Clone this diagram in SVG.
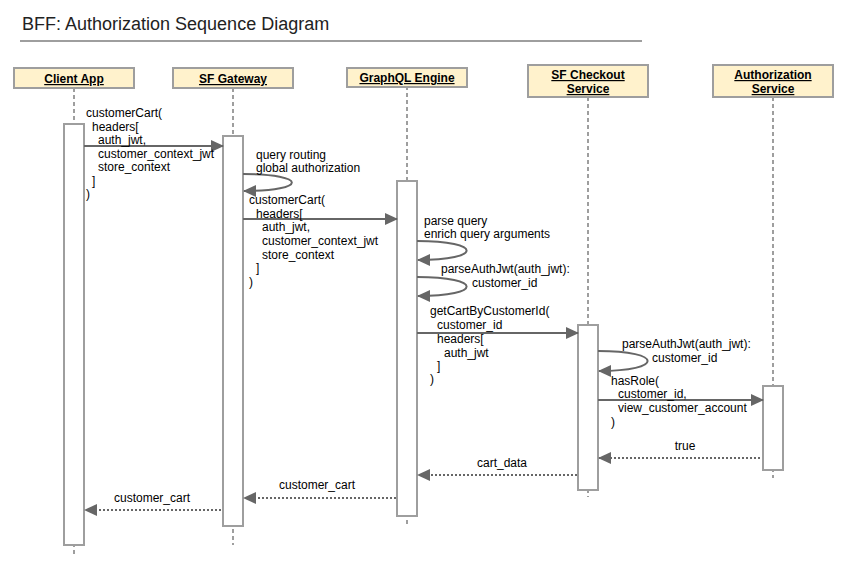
<svg xmlns="http://www.w3.org/2000/svg" width="855" height="576" viewBox="0 0 855 576">
<style>
text{font-family:"Liberation Sans",Arial,sans-serif;font-size:12px;fill:#000}
.title{font-size:18px;fill:#222}
.hdr{fill:#fff2cc;stroke:#9e9e9e;stroke-width:2}
.hl{font-weight:bold;text-anchor:middle;text-decoration:underline}
.life{stroke:#9e9e9e;stroke-width:2;stroke-dasharray:4 3;fill:none}
.act{fill:#fff;stroke:#9e9e9e;stroke-width:2}
.msg{stroke:#666;stroke-width:2;fill:none;marker-end:url(#ah)}
.ret{stroke:#666;stroke-width:2;fill:none;stroke-dasharray:2 2;marker-end:url(#ah)}
.mid{text-anchor:middle}
</style>
<defs>
<marker id="ah" markerUnits="userSpaceOnUse" markerWidth="14" markerHeight="12" refX="12" refY="6" orient="auto">
<path d="M0,0 L13,6 L0,12 z" fill="#666"/>
</marker>
</defs>
<rect width="855" height="576" fill="#fff"/>
<text class="title" x="22" y="30">BFF: Authorization Sequence Diagram</text>
<line x1="20" y1="41" x2="642" y2="41" stroke="#9e9e9e" stroke-width="2"/>

<g id="client-app">
<line class="life" x1="74" y1="88" x2="74" y2="554"/>
<rect class="hdr" x="14" y="68" width="120" height="20"/>
<text class="hl" x="74" y="83">Client App</text>
<rect class="act" x="64" y="124" width="20" height="421"/>
</g>
<g id="sf-gateway">
<line class="life" x1="233" y1="88" x2="233" y2="545"/>
<rect class="hdr" x="173" y="68" width="120" height="20"/>
<text class="hl" x="233" y="83">SF Gateway</text>
<rect class="act" x="223" y="136" width="20" height="390"/>
</g>
<g id="graphql-engine">
<line class="life" x1="407" y1="86" x2="407" y2="524"/>
<rect class="hdr" x="347" y="68" width="120" height="19"/>
<text class="hl" x="407" y="82">GraphQL Engine</text>
<rect class="act" x="397" y="181" width="20" height="335"/>
</g>
<g id="sf-checkout-service">
<line class="life" x1="588" y1="97" x2="588" y2="497"/>
<rect class="hdr" x="528" y="65" width="120" height="32"/>
<text class="hl" x="588" y="79">SF Checkout</text>
<text class="hl" x="588" y="93">Service</text>
<rect class="act" x="578" y="325" width="20" height="165"/>
</g>
<g id="authorization-service">
<line class="life" x1="773" y1="97" x2="773" y2="478"/>
<rect class="hdr" x="713" y="65" width="120" height="32"/>
<text class="hl" x="773" y="79">Authorization</text>
<text class="hl" x="773" y="93">Service</text>
<rect class="act" x="763" y="386" width="20" height="84"/>
</g>

<g id="connectors">
<line class="msg" x1="84" y1="146" x2="223" y2="146"/>
<path class="msg" d="M243,174 C308,174 308,191 244,191"/>
<line class="msg" x1="243" y1="219" x2="397" y2="219"/>
<path class="msg" d="M417,241 C483,241 483,260 418,260"/>
<path class="msg" d="M417,277 C483,277 483,296 418,296"/>
<line class="msg" x1="417" y1="333" x2="578" y2="333"/>
<path class="msg" d="M598,351 C664,351 664,371 599,371"/>
<line class="msg" x1="598" y1="400" x2="763" y2="400"/>
<line class="ret" x1="760" y1="458" x2="599" y2="458"/>
<line class="ret" x1="577" y1="475" x2="418" y2="475"/>
<line class="ret" x1="396" y1="498" x2="244" y2="498"/>
<line class="ret" x1="221" y1="510" x2="85" y2="510"/>

<text x="86" y="117">customerCart(</text>
<text x="92" y="131">headers[</text>
<text x="98" y="144">auth_jwt,</text>
<text x="98" y="158">customer_context_jwt</text>
<text x="98" y="171">store_context</text>
<text x="92" y="185">]</text>
<text x="86" y="198">)</text>

<text x="256" y="159">query routing</text>
<text x="256" y="172">global authorization</text>

<text x="249" y="204">customerCart(</text>
<text x="256" y="218">headers[</text>
<text x="262" y="231">auth_jwt,</text>
<text x="262" y="245">customer_context_jwt</text>
<text x="262" y="259">store_context</text>
<text x="256" y="272">]</text>
<text x="249" y="286">)</text>

<text x="424" y="225">parse query</text>
<text x="424" y="238">enrich query arguments</text>
<text x="441" y="273">parseAuthJwt(auth_jwt):</text>
<text x="472" y="287">customer_id</text>

<text x="430" y="315">getCartByCustomerId(</text>
<text x="437" y="329">customer_id</text>
<text x="437" y="343">headers[</text>
<text x="444" y="357">auth_jwt</text>
<text x="437" y="370">]</text>
<text x="430" y="383">)</text>

<text x="622" y="348">parseAuthJwt(auth_jwt):</text>
<text x="652" y="362">customer_id</text>

<text x="611" y="385">hasRole(</text>
<text x="618" y="398">customer_id,</text>
<text x="618" y="412">view_customer_account</text>
<text x="611" y="426">)</text>

<text class="mid" x="685" y="450">true</text>
<text class="mid" x="502" y="467">cart_data</text>
<text class="mid" x="317" y="489">customer_cart</text>
<text class="mid" x="152" y="502">customer_cart</text>
</g>
</svg>
